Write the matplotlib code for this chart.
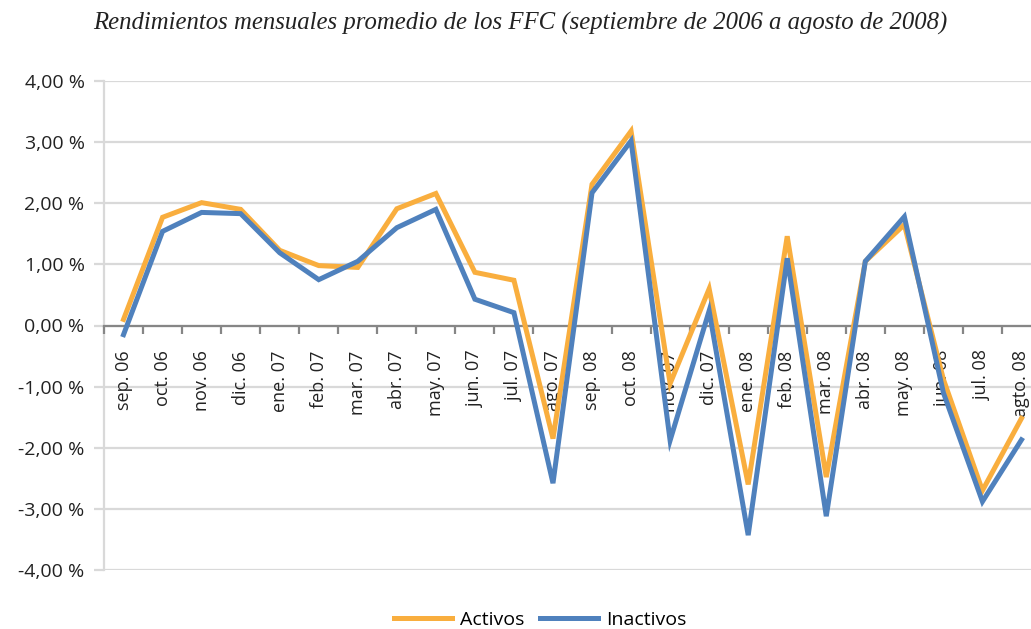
import numpy as np
import matplotlib.pyplot as plt
from matplotlib.ticker import FixedLocator, FuncFormatter

# datos
meses = ['sep. 06', 'oct. 06', 'nov. 06', 'dic. 06', 'ene. 07', 'feb. 07',
         'mar. 07', 'abr. 07', 'may. 07', 'jun. 07', 'jul. 07', 'ago. 07',
         'sep. 08', 'oct. 08', 'nov. 07', 'dic. 07', 'ene. 08', 'feb. 08',
         'mar. 08', 'abr. 08', 'may. 08', 'jun. 08', 'jul. 08', 'agto. 08']

activos = [0.10, 1.77, 2.01, 1.90, 1.23, 0.98, 0.95, 1.91, 2.16, 0.87, 0.74, -1.85,
           2.31, 3.18, -0.95, 0.60, -2.60, 1.46, -2.48, 1.05, 1.65, -0.88, -2.70, -1.52]

inactivos = [-0.15, 1.54, 1.85, 1.83, 1.19, 0.75, 1.05, 1.60, 1.90, 0.43, 0.21, -2.58,
             2.17, 3.02, -1.88, 0.24, -3.43, 1.10, -3.12, 1.05, 1.78, -1.10, -2.88, -1.87]

naranja = '#F9AE3E'
azul = '#4F81BD'

plt.rcParams['font.family'] = ['Open Sans', 'DejaVu Sans']

fig = plt.figure(figsize=(10.31, 6.29), dpi=100)
# el área de trazado sigue más allá del borde derecho, como en el original
ax = fig.add_axes([104 / 1031, 1 - 570 / 629, 937 / 1031, 489 / 629])

x = np.arange(len(meses))
ax.plot(x, activos, color=naranja, lw=3.6, solid_joinstyle='miter', label='Activos', zorder=3)
ax.plot(x, inactivos, color=azul, lw=3.6, solid_joinstyle='miter', label='Inactivos', zorder=4)

ax.set_xlim(-0.5, len(meses) - 0.5)
ax.set_ylim(-4, 4)

# rejilla (bajo las etiquetas del eje x)
ax.set_yticks(np.arange(-4, 4.01, 1))
ax.yaxis.set_major_formatter(FuncFormatter(lambda v, p: f'{v:.2f}'.replace('.', ',') + ' %'))
ax.grid(axis='y', color='#D9D9D9', lw=1.6)
ax.yaxis.set_zorder(1)
ax.xaxis.set_zorder(2.6)
ax.tick_params(axis='y', length=7, width=1.6, color='#D9D9D9', pad=7,
               labelsize=14, labelcolor='#222222')

# eje x en el cero
for s in ['top', 'right']:
    ax.spines[s].set_visible(False)
ax.spines['left'].set_color('#D9D9D9')
ax.spines['left'].set_linewidth(1.6)
ax.spines['bottom'].set_position(('data', 0))
ax.spines['bottom'].set_color('#868686')
ax.spines['bottom'].set_linewidth(1.6)
ax.spines['bottom'].set_zorder(2.7)

ax.set_xticks(x)
ax.set_xticklabels(meses, rotation=90, fontsize=13, color='#222222')
ax.xaxis.set_minor_locator(FixedLocator(np.arange(-0.5, len(meses), 1)))
ax.tick_params(axis='x', which='major', length=0, pad=18)
ax.tick_params(axis='x', which='minor', length=6, width=1.6, color='#868686')

fig.text(0.505, 0.963, 'Rendimientos mensuales promedio de los FFC (septiembre de 2006 a agosto de 2008)',
         ha='center', va='center', fontsize=17.8, style='italic',
         family='Liberation Serif', color='#222222')

fig.legend(loc='center', bbox_to_anchor=(0.524, 0.014), ncol=2, frameon=False,
           fontsize=14, handlelength=3.0, columnspacing=0.8, handletextpad=0.4)

fig.savefig('out.png', dpi=100)
